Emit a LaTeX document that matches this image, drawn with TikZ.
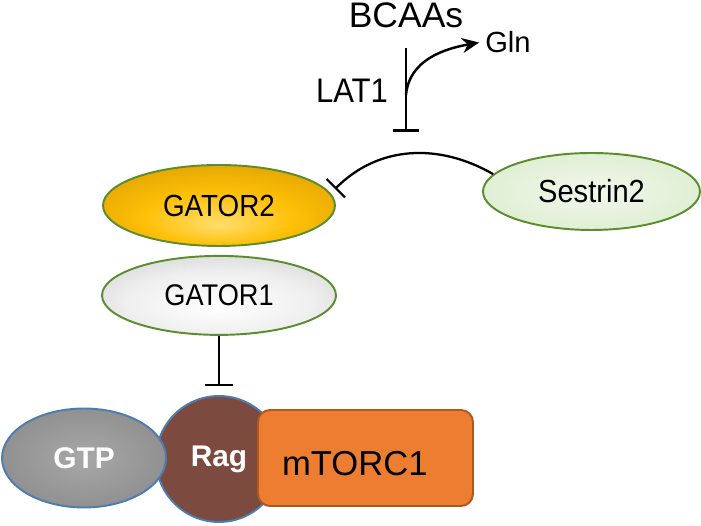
\documentclass[tikz,border=0pt]{standalone}
\usepackage{fontspec}
\setmainfont{Liberation Sans}
\newfontfamily\narrowsans[FakeStretch=0.91]{Liberation Sans}
\usetikzlibrary{arrows.meta, positioning, shapes.geometric}

\definecolor{leafgreen}{HTML}{5B8C2E}
\definecolor{ragblue}{HTML}{4C7CB0}
\definecolor{ragbrown}{HTML}{7D4A3F}
\definecolor{torange}{HTML}{ED7D31}
\definecolor{torangeline}{HTML}{AE5A1E}

\pgfdeclareradialshading{goldshade}{\pgfpoint{0bp}{-12bp}}{color(0bp)=(rgb,255:red,255;green,222;blue,110); color(16bp)=(rgb,255:red,255;green,192;blue,8); color(36bp)=(rgb,255:red,218;green,158;blue,0); color(50bp)=(rgb,255:red,150;green,108;blue,0)}
\pgfdeclareradialshading{grayshade}{\pgfpoint{0bp}{-8bp}}{color(0bp)=(white); color(20bp)=(rgb,255:red,239;green,239;blue,239); color(40bp)=(rgb,255:red,200;green,200;blue,200); color(50bp)=(rgb,255:red,168;green,168;blue,168)}
\pgfdeclareradialshading{greenshade}{\pgfpoint{0bp}{0bp}}{color(0bp)=(rgb,255:red,242;green,248;blue,236); color(25bp)=(rgb,255:red,224;green,239;blue,212); color(50bp)=(rgb,255:red,181;green,212;blue,156)}
\pgfdeclareradialshading{gtpshade}{\pgfpoint{0bp}{0bp}}{color(0bp)=(rgb,255:red,168;green,168;blue,168); color(30bp)=(rgb,255:red,140;green,140;blue,140); color(50bp)=(rgb,255:red,106;green,106;blue,106)}

\begin{document}
\begin{tikzpicture}[
	x=0.02cm, y=0.02cm,
	complex/.style={draw=leafgreen, line width=1.1pt, ellipse, inner sep=0pt, align=center},
	protein/.style={draw=ragblue, line width=1.1pt, ellipse, inner sep=0pt, text=white, font={\bfseries\fontsize{17}{20}\selectfont}},
	inhibit/.style={-{Bar[width=0.54cm]}, line width=1.7pt},
	arrow/.style={-{Stealth[length=0.34cm, width=0.3cm]}, line width=1.4pt}
	]
	\useasboundingbox (0,0) rectangle (701,526);
	
	% Amino acid transport at the top
	\node[font={\fontsize{20.2}{24}\selectfont}, anchor=base] (bcaa) at (406,498) {BCAAs};
	\node[font={\fontsize{16.6}{20}\selectfont}, anchor=base] (gln) at (508,473) {Gln};
	\node[font={\narrowsans\fontsize{19.4}{23}\selectfont}, anchor=base] (lat) at (352,423) {LAT1};
	\coordinate (lattop) at (406,478);
	\coordinate (latbar) at (406,394);
	\coordinate (latmid) at (406,431);
	
	% GATOR complexes and Sestrin2
	\node[complex, shading=goldshade, minimum width=4.64cm, minimum height=1.62cm, font={\narrowsans\fontsize{17.4}{20}\selectfont}] (gator2) at (219,320.5) {GATOR2};
	\node[complex, shading=grayshade, minimum width=4.68cm, minimum height=1.58cm, font={\narrowsans\fontsize{17}{20}\selectfont}, below=0.16cm of gator2] (gator1) {GATOR1};
	\node[complex, shading=greenshade, minimum width=4.34cm, minimum height=1.54cm, font={\narrowsans\fontsize{18.2}{21}\selectfont}] (sestrin) at (591.5,334.5) {Sestrin2};
	\coordinate (g2bar) at (335,337);
	
	% Rag and mTORC1 at the bottom
	\node[protein, circle, fill=ragbrown, minimum size=2.52cm] (rag) at (219,67) {Rag};
	\node[protein, shading=gtpshade, minimum width=3.28cm, minimum height=1.98cm] (gtp) at (84,68) {GTP};
	\node[draw=torangeline, fill=torange, line width=1.1pt, rounded corners=0.24cm, minimum width=4.3cm, minimum height=1.92cm, text width=3.34cm, align=left, text height=21.8pt, text depth=2pt, font={\fontsize{19.7}{23}\selectfont}] (mtorc) at (365.5,68) {mTORC1};
	
	% Connections
	\draw[inhibit] (lattop) -- (latbar);
	\draw[arrow] (latmid) to[out=85,in=190] (gln.west);
	\draw[inhibit, -{Bar[width=0.52cm]}, line width=1.3pt] (sestrin.170) to[out=150,in=45] (g2bar);
	\draw[inhibit, -{Bar[width=0.56cm]}, line width=0.9pt, shorten >=0.18cm] (gator1) -- (rag);
	
\end{tikzpicture}
\end{document}
